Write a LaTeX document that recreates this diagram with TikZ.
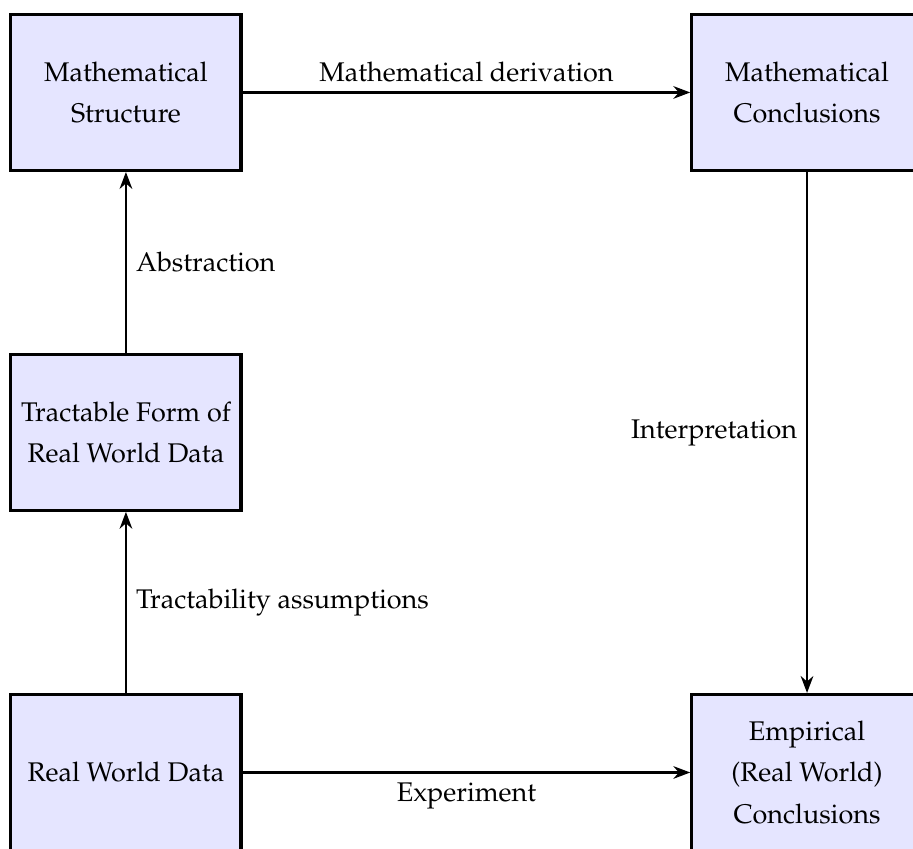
\documentclass[tikz,border=0pt]{standalone}
\usepackage[T1]{fontenc}
\usepackage{mathpazo}
\usepackage{tikz}
\usetikzlibrary{arrows.meta}

\begin{document}
\begin{tikzpicture}[every node/.style={font=\normalsize},
	stage/.style={draw, very thick, fill=blue!10, minimum width=3cm, minimum height=2.03cm, align=center, inner sep=2pt, font={\linespread{1.27}\selectfont}},
	flow/.style={-{Stealth[length=2.2mm]}, thick}]
	\useasboundingbox (0,0) rectangle (11.89,-11.055);
	\node[stage] (struct) at (1.64,-1.204) {Mathematical\\Structure};
	\node[stage] (concl) at (10.51,-1.204) {Mathematical\\Conclusions};
	\node[stage] (tract) at (1.64,-5.63) {Tractable Form of\\Real World Data};
	\node[stage] (data) at (1.64,-10.06) {Real World Data};
	\node[stage] (empir) at (10.51,-10.06) {Empirical\\(Real World)\\Conclusions};
	\draw[flow] (struct) -- node[above] {Mathematical derivation} (concl);
	\draw[flow] (tract) -- node[right] {Abstraction} (struct);
	\draw[flow] (data) -- node[right] {Tractability assumptions} (tract);
	\draw[flow] (concl) -- node[left] {Interpretation} (empir);
	\draw[flow] (data) -- node[below] {Experiment} (empir);
\end{tikzpicture}
\end{document}
